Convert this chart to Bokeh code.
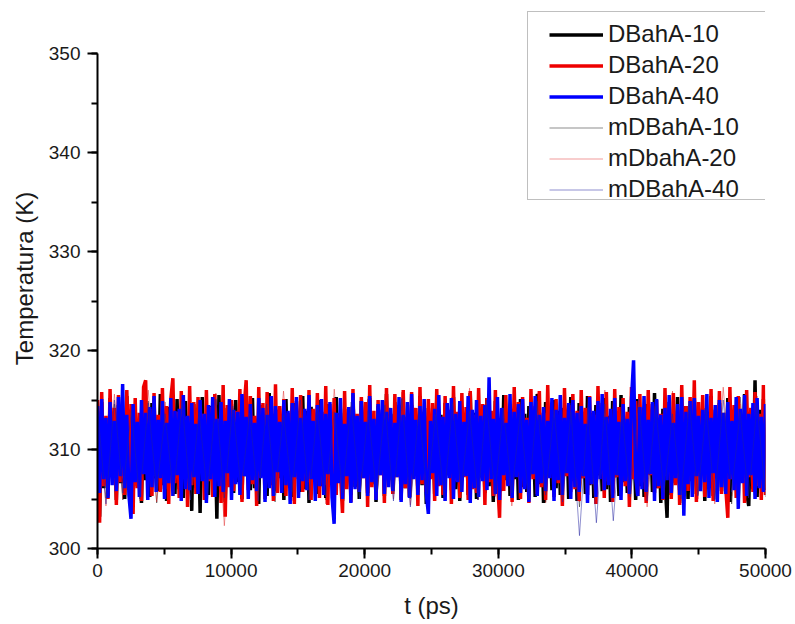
import numpy as np
from bokeh.plotting import figure
from bokeh.models import Legend, LegendItem, SingleIntervalTicker, Range1d
from bokeh.embed import file_html
from bokeh.resources import INLINE

# ---- data (temperature, K) ----
dbaha_10 = [
    313.9, 303.2, 314.8, 306.1, 312.7, 305.3, 315.2, 307.4, 313.1, 304.9,
    314.5, 306.6, 312.2, 305.0, 315.4, 307.8, 313.6, 305.7, 314.1, 306.3,
    312.9, 304.6, 315.0, 306.9, 313.4, 305.2, 314.7, 307.1, 312.5, 305.8,
    315.6, 306.4, 313.2, 304.8, 314.3, 307.5, 312.8, 305.5, 315.1, 306.0,
    313.7, 305.1, 314.9, 307.2, 312.4, 303.8, 314.6, 306.5, 313.3, 303.6,
    315.3, 306.8, 312.6, 305.4, 314.4, 307.0, 313.0, 303.0, 315.5, 306.2,
    313.8, 304.7, 314.2, 307.6, 312.3, 305.6, 315.0, 306.7, 313.5, 305.0,
    314.8, 307.3, 312.9, 305.9, 315.2, 306.1, 313.1, 304.5, 314.5, 307.7,
    312.7, 305.3, 315.7, 306.4, 313.6, 305.8, 314.0, 307.1, 312.5, 304.9,
    315.1, 306.6, 313.3, 305.2, 314.7, 307.4, 312.8, 305.7, 315.4, 306.0,
    313.9, 304.6, 314.3, 307.8, 312.6, 305.5, 315.0, 306.3, 313.2, 305.1,
    314.6, 307.0, 312.4, 305.9, 315.3, 306.8, 313.7, 304.8, 314.1, 307.5,
    312.9, 305.4, 315.5, 306.2, 313.4, 305.0, 314.9, 307.2, 312.7, 305.6,
    315.2, 306.5, 313.0, 304.7, 314.4, 307.6, 312.3, 305.3, 315.6, 306.9,
    313.6, 305.8, 314.8, 307.3, 312.8, 304.9, 315.1, 306.1, 313.3, 305.2,
    314.5, 307.7, 312.5, 305.7, 315.4, 306.4, 313.8, 304.5, 314.2, 307.1,
    313.1, 305.5, 315.0, 306.7, 313.5, 305.1, 314.7, 307.4, 312.6, 305.9,
    315.3, 306.0, 313.2, 304.8, 314.3, 307.8, 312.9, 305.4, 315.7, 306.6,
    313.7, 305.0, 314.6, 307.2, 312.4, 305.6, 315.2, 306.3, 313.4, 304.7,
    314.9, 307.5, 312.7, 305.8, 315.5, 306.9, 313.0, 305.3, 314.1, 307.0,
    312.8, 304.9, 315.1, 306.2, 313.6, 305.7, 314.4, 307.6, 312.5, 305.2,
    315.6, 306.5, 313.3, 304.6, 314.8, 307.3, 312.6, 305.9, 315.0, 306.1,
    313.9, 305.4, 314.2, 307.7, 312.9, 305.0, 315.3, 306.8, 313.1, 304.8,
    314.7, 307.1, 312.4, 305.5, 315.4, 306.4, 313.7, 305.1, 314.5, 307.4,
    312.7, 305.8, 315.2, 306.0, 313.4, 304.7, 314.9, 307.2, 312.8, 305.3,
    315.5, 306.7, 313.0, 305.6, 314.3, 307.9, 312.5, 304.9, 315.1, 306.3,
    313.6, 305.2, 314.6, 307.5, 312.9, 305.7, 315.7, 306.1, 313.2, 304.6,
    314.1, 307.0, 303.1, 314.8, 305.4, 312.7, 306.6, 315.3, 305.9, 313.5,
    307.3, 314.4, 305.0, 312.6, 306.8, 315.0, 305.5, 313.8, 307.6, 314.2,
    304.8, 312.9, 306.2, 315.4, 305.3, 313.1, 307.1, 314.7, 305.8, 312.4,
    306.5, 315.2, 304.7, 313.6, 307.4, 314.5, 305.1, 312.8, 306.9, 315.6,
    305.6, 304.3, 313.3, 306.0, 317.0, 305.2, 314.0, 307.2, 315.1, 305.9,
]
dbaha_20 = [
    315.0, 302.6, 315.8, 306.3, 313.4, 305.0, 316.1, 307.2, 314.2, 304.4,
    315.5, 306.7, 313.0, 305.4, 316.0, 307.5, 314.6, 303.5, 315.2, 306.1,
    313.7, 304.8, 316.3, 317.0, 306.9, 314.1, 305.3, 315.7, 307.3, 313.5,
    305.7, 316.2, 306.0, 314.4, 304.5, 315.1, 317.2, 306.6, 313.8, 305.1,
    315.9, 307.0, 313.3, 304.2, 316.4, 306.4, 314.8, 305.5, 315.3, 307.7,
    313.6, 304.9, 316.0, 306.8, 314.3, 305.2, 315.6, 307.1, 313.1, 304.6,
    316.5, 303.2, 314.5, 306.2, 315.0, 305.8, 313.9, 307.4, 316.1, 304.7,
    314.2, 317.0, 305.9, 315.4, 306.5, 313.4, 304.3, 316.3, 307.2, 314.7,
    305.0, 315.8, 306.9, 313.2, 304.8, 316.6, 305.6, 314.4, 307.5, 315.1,
    305.3, 313.7, 306.3, 316.2, 304.5, 314.9, 307.0, 315.5, 305.7, 313.3,
    306.7, 316.0, 304.9, 314.1, 307.3, 315.7, 305.1, 313.8, 306.4, 316.4,
    304.4, 314.6, 306.8, 315.2, 305.4, 313.5, 307.6, 303.6, 315.9, 306.0,
    314.3, 304.7, 316.1, 306.6, 313.6, 305.8, 315.3, 307.1, 314.8, 304.2,
    316.5, 306.2, 313.9, 305.0, 315.0, 307.4, 314.0, 304.6, 316.2, 306.9,
    313.4, 305.5, 315.6, 307.2, 314.5, 304.9, 316.0, 306.1, 313.1, 305.2,
    315.8, 307.7, 314.2, 304.3, 316.3, 306.5, 313.7, 305.7, 315.1, 307.0,
    314.7, 304.8, 316.1, 306.3, 313.3, 305.4, 315.4, 307.5, 314.0, 304.5,
    316.4, 306.8, 313.8, 305.1, 315.7, 307.2, 314.3, 304.9, 315.9, 306.0,
    313.5, 305.6, 316.2, 307.3, 314.6, 304.4, 315.2, 306.7, 313.9, 305.3,
    316.0, 307.1, 303.1, 314.1, 305.8, 315.5, 306.4, 313.6, 304.7, 316.3,
    307.4, 314.8, 305.0, 315.3, 306.9, 313.2, 304.6, 316.1, 307.0, 314.4,
    305.5, 315.9, 306.2, 313.7, 304.9, 316.5, 307.6, 314.0, 305.2, 315.1,
    306.6, 313.4, 304.3, 316.2, 307.3, 314.5, 305.7, 315.6, 306.0, 313.9,
    304.8, 316.0, 307.1, 314.2, 305.4, 315.4, 306.5, 313.5, 304.5, 316.4,
    307.5, 314.7, 305.1, 315.8, 306.8, 313.1, 304.7, 316.1, 307.2, 314.3,
    305.9, 315.2, 306.3, 313.8, 304.2, 316.3, 307.0, 314.9, 305.3, 315.6,
    306.7, 313.3, 304.6, 316.0, 307.4, 314.6, 305.6, 315.0, 306.1, 313.6,
    304.9, 316.2, 307.7, 314.1, 305.0, 315.7, 306.4, 313.9, 304.4, 316.5,
    307.1, 314.4, 305.8, 315.3, 306.9, 317.0, 304.7, 314.8, 307.3, 315.5,
    305.2, 313.2, 306.6, 316.1, 304.8, 314.0, 307.5, 315.9, 305.5, 313.7,
    306.2, 303.1, 316.3, 307.0, 314.5, 305.1, 315.4, 306.8, 313.4, 304.6,
    316.0, 307.2, 314.2, 305.7, 315.8, 306.3, 313.6, 304.9, 316.5, 305.4,
]
dbaha_40 = [
    314.4, 305.6, 315.1, 307.0, 313.2, 305.1, 314.8, 306.4, 312.9, 305.8,
    315.3, 307.3, 316.6, 306.1, 313.5, 305.4, 303.0, 314.6, 306.7, 312.8,
    305.2, 315.0, 307.5, 313.7, 304.9, 314.3, 306.2, 315.4, 305.7, 313.0,
    307.1, 314.9, 305.0, 312.7, 306.6, 315.2, 305.3, 313.9, 307.4, 314.1,
    304.8, 315.5, 306.0, 313.4, 305.9, 314.7, 307.2, 312.6, 305.5, 315.0,
    306.8, 313.6, 304.6, 314.5, 307.0, 315.3, 305.2, 313.1, 306.3, 314.8,
    305.7, 312.9, 307.6, 315.1, 304.9, 314.0, 306.5, 313.8, 305.4, 315.6,
    307.3, 313.3, 305.0, 314.6, 306.9, 312.7, 305.8, 315.2, 307.1, 314.2,
    304.7, 313.5, 306.1, 315.4, 305.3, 314.4, 307.7, 312.8, 305.6, 315.0,
    306.4, 313.9, 304.5, 314.7, 307.2, 315.3, 305.1, 313.2, 306.8, 314.1,
    305.9, 315.5, 307.0, 312.9, 304.8, 314.5, 306.3, 315.1, 305.4, 313.6,
    307.5, 314.8, 305.2, 302.5, 313.7, 306.6, 315.2, 305.0, 312.6, 307.3,
    314.3, 304.6, 315.7, 306.0, 313.4, 305.7, 314.9, 307.1, 312.8, 305.3,
    315.4, 306.7, 313.1, 304.9, 314.6, 307.4, 315.0, 305.5, 313.8, 306.2,
    314.2, 305.8, 312.7, 307.2, 315.3, 304.7, 313.5, 306.5, 314.8, 305.1,
    315.6, 307.0, 313.0, 305.4, 314.4, 306.9, 315.1, 305.6, 303.5, 312.9,
    307.6, 314.1, 305.3, 315.5, 306.4, 313.3, 304.8, 314.7, 307.1, 315.2,
    305.0, 313.6, 306.7, 314.9, 305.7, 312.8, 307.3, 315.4, 304.6, 314.0,
    306.1, 315.0, 305.2, 313.4, 306.8, 314.5, 305.9, 317.3, 307.0, 313.1,
    305.5, 315.3, 304.9, 314.2, 307.4, 312.7, 306.3, 315.6, 305.1, 313.8,
    307.2, 314.6, 305.6, 315.1, 306.0, 313.0, 304.7, 314.8, 307.5, 315.4,
    305.3, 313.5, 306.6, 314.3, 305.8, 312.9, 307.1, 315.2, 304.8, 314.0,
    306.9, 315.5, 305.4, 313.2, 307.6, 314.7, 305.0, 315.0, 306.2, 313.7,
    305.7, 314.4, 307.3, 312.6, 304.6, 315.3, 306.5, 313.9, 305.2, 314.9,
    307.0, 315.6, 305.9, 313.3, 306.4, 314.1, 305.1, 315.2, 307.4, 312.8,
    304.9, 314.6, 306.8, 313.1, 305.5, 315.0, 319.0, 307.2, 305.3, 314.3,
    306.0, 315.4, 305.7, 313.0, 307.5, 314.8, 304.8, 315.1, 306.3, 313.5,
    305.0, 314.2, 306.9, 315.5, 305.6, 312.7, 307.1, 314.6, 305.4, 315.3,
    303.3, 313.8, 306.5, 314.9, 305.2, 315.2, 307.3, 313.4, 305.8, 314.0,
    306.7, 315.6, 305.1, 313.2, 307.6, 314.5, 304.7, 315.0, 306.2, 313.7,
    305.5, 314.8, 307.0, 312.9, 305.9, 315.3, 304.0, 314.1, 306.6, 315.5,
    305.3, 313.6, 307.4, 314.7, 305.0, 315.2, 306.1, 313.3, 305.7, 314.6,
]
mdbaha_10 = [
    313.8, 305.1, 314.6, 304.9, 313.5, 305.7, 314.9, 304.6, 313.9, 305.3,
    314.4, 305.9, 313.6, 304.8, 315.0, 305.4, 314.2, 305.0, 313.7, 305.8,
    314.8, 304.7, 313.9, 305.5, 314.5, 305.2, 313.4, 304.9, 314.7, 305.6,
    314.0, 305.1, 315.1, 304.8, 313.8, 305.7, 314.3, 305.0, 313.6, 304.4,
    314.9, 305.3, 313.7, 305.9, 314.6, 304.9, 315.2, 305.4, 313.9, 305.0,
    314.1, 305.6, 313.5, 304.7, 314.8, 305.2, 313.9, 304.2, 314.5, 305.5,
    313.7, 305.0, 315.0, 304.8, 314.2, 305.8, 313.6, 305.1, 314.7, 304.6,
    313.8, 305.4, 314.9, 305.0, 313.6, 304.5, 315.3, 305.7, 314.0, 305.2,
]
mdbaha_20 = [
    314.5, 304.3, 315.6, 305.0, 314.1, 305.8, 316.0, 304.7, 314.8, 305.4,
    315.2, 304.9, 314.0, 305.6, 315.7, 302.3, 314.6, 305.1, 315.3, 304.6,
    314.2, 305.7, 315.9, 304.8, 314.7, 305.3, 315.0, 304.5, 316.1, 305.2,
    314.4, 305.9, 315.4, 304.7, 314.9, 305.0, 315.8, 304.4, 314.3, 305.5,
    315.1, 304.8, 314.6, 305.6, 316.2, 304.9, 314.8, 305.2, 315.5, 304.3,
    314.1, 305.4, 315.7, 304.6, 314.9, 305.8, 315.2, 304.7, 314.5, 305.1,
    316.0, 304.9, 314.7, 305.5, 315.3, 304.2, 314.4, 305.7, 315.9, 304.8,
    314.8, 305.0, 315.1, 304.5, 316.3, 305.3, 314.6, 304.9, 315.4, 305.6,
]
mdbaha_40 = [
    314.2, 304.5, 315.0, 305.6, 313.9, 305.0, 314.7, 305.8, 313.6, 305.3,
    314.9, 304.9, 313.8, 305.5, 315.1, 305.1, 314.4, 305.9, 313.7, 304.8,
    314.6, 305.4, 313.5, 305.7, 315.0, 304.9, 314.1, 305.2, 313.8, 305.6,
    314.8, 305.0, 313.9, 305.7, 314.5, 304.8, 315.2, 304.2, 314.0, 305.5,
    313.6, 305.1, 314.7, 305.8, 313.9, 304.9, 315.0, 305.3, 314.2, 305.6,
    313.7, 305.0, 314.9, 305.4, 314.0, 304.7, 313.8, 301.3, 314.3, 302.6,
    314.6, 302.8, 313.9, 305.2, 315.1, 304.8, 314.4, 305.6, 313.6, 305.0,
    314.8, 305.3, 314.1, 304.9, 315.0, 305.7, 313.8, 305.1, 314.5, 305.4,
]
t_end = 50000
y_axis_min, y_axis_max = 300, 350
series_labels = ["DBahA-10", "DBahA-20", "DBahA-40", "mDBahA-10", "mDbahA-20", "mDBahA-40"]
x_ticks_interval = 10000
y_ticks_interval = 10

FONT = "Liberation Sans"

# frame: x 97..765 px, y from 8 (top, room for legend) to 548; 350 K sits at 53 px
FRAME_TOP = 8
px_per_k = (548 - 53) / (y_axis_max - y_axis_min)
y_top = y_axis_max + (53 - FRAME_TOP) / px_per_k

p = figure(width=795, height=624, output_backend="svg", toolbar_location=None,
           x_range=Range1d(0, t_end), y_range=Range1d(y_axis_min, y_top),
           min_border_left=97, min_border_right=30, min_border_top=FRAME_TOP, min_border_bottom=76,
           background_fill_color="white", border_fill_color="white")
p.outline_line_color = None
p.xgrid.visible = False
p.ygrid.visible = False

p.xaxis.ticker = SingleIntervalTicker(interval=x_ticks_interval, num_minor_ticks=2)
p.yaxis.ticker = SingleIntervalTicker(interval=y_ticks_interval, num_minor_ticks=2)
p.yaxis.bounds = (y_axis_min, y_axis_max)
p.xaxis.axis_label = "t (ps)"
p.yaxis.axis_label = "Temperatura (K)"

for ax in (p.xaxis[0], p.yaxis[0]):
    ax.axis_line_width = 2
    ax.axis_line_color = "black"
    ax.major_tick_line_width = 2
    ax.minor_tick_line_width = 2
    ax.major_tick_in = 0
    ax.major_tick_out = 10
    ax.minor_tick_in = 0
    ax.minor_tick_out = 6
    ax.major_label_text_font = FONT
    ax.major_label_text_font_size = "19px"
    ax.major_label_text_color = "#1a1a1a"
    ax.axis_label_text_font = FONT
    ax.axis_label_text_font_size = "24px"
    ax.axis_label_text_font_style = "normal"
    ax.axis_label_text_color = "#1a1a1a"
p.yaxis.major_label_standoff = 7
p.xaxis.major_label_standoff = 5
p.yaxis.axis_label_standoff = 8
p.xaxis.axis_label_standoff = 12

def tgrid(vals):
    return np.linspace(0, t_end, len(vals))

r4 = p.line(tgrid(mdbaha_10), mdbaha_10, line_color="black", line_alpha=0.45, line_width=1)
r5 = p.line(tgrid(mdbaha_20), mdbaha_20, line_color="#e02020", line_alpha=0.45, line_width=1)
r1 = p.line(tgrid(dbaha_10), dbaha_10, line_color="black", line_width=3.5)
r2 = p.line(tgrid(dbaha_20), dbaha_20, line_color="#ee0000", line_width=3.5)
r3 = p.line(tgrid(dbaha_40), dbaha_40, line_color="#0000ff", line_width=3.5)
r6 = p.line(tgrid(mdbaha_40), mdbaha_40, line_color="#2020a0", line_alpha=0.5, line_width=1)

dummy = p.line(x=[], y=[], line_alpha=0)

legend_box = Legend(items=[LegendItem(label=" ", renderers=[dummy])],
                    location=(430, 348), padding=0, spacing=0, margin=0,
                    glyph_width=200, glyph_height=187, label_width=39, label_height=187,
                    label_standoff=0, border_line_color="#808080", border_line_width=1,
                    background_fill_color="white", background_fill_alpha=1.0)
p.add_layout(legend_box)

legend = Legend(items=[LegendItem(label=lab, renderers=[r]) for lab, r in
                       zip(series_labels, [r1, r2, r3, r4, r5, r6])],
                location=(452, 345), padding=0, spacing=3, margin=0,
                glyph_width=54, glyph_height=27, label_height=27, label_standoff=5,
                label_text_font=FONT, label_text_font_size="24px", label_text_color="#1a1a1a",
                border_line_alpha=0, background_fill_alpha=0)
p.add_layout(legend)

open("out.html", "w").write(file_html(p, INLINE))
